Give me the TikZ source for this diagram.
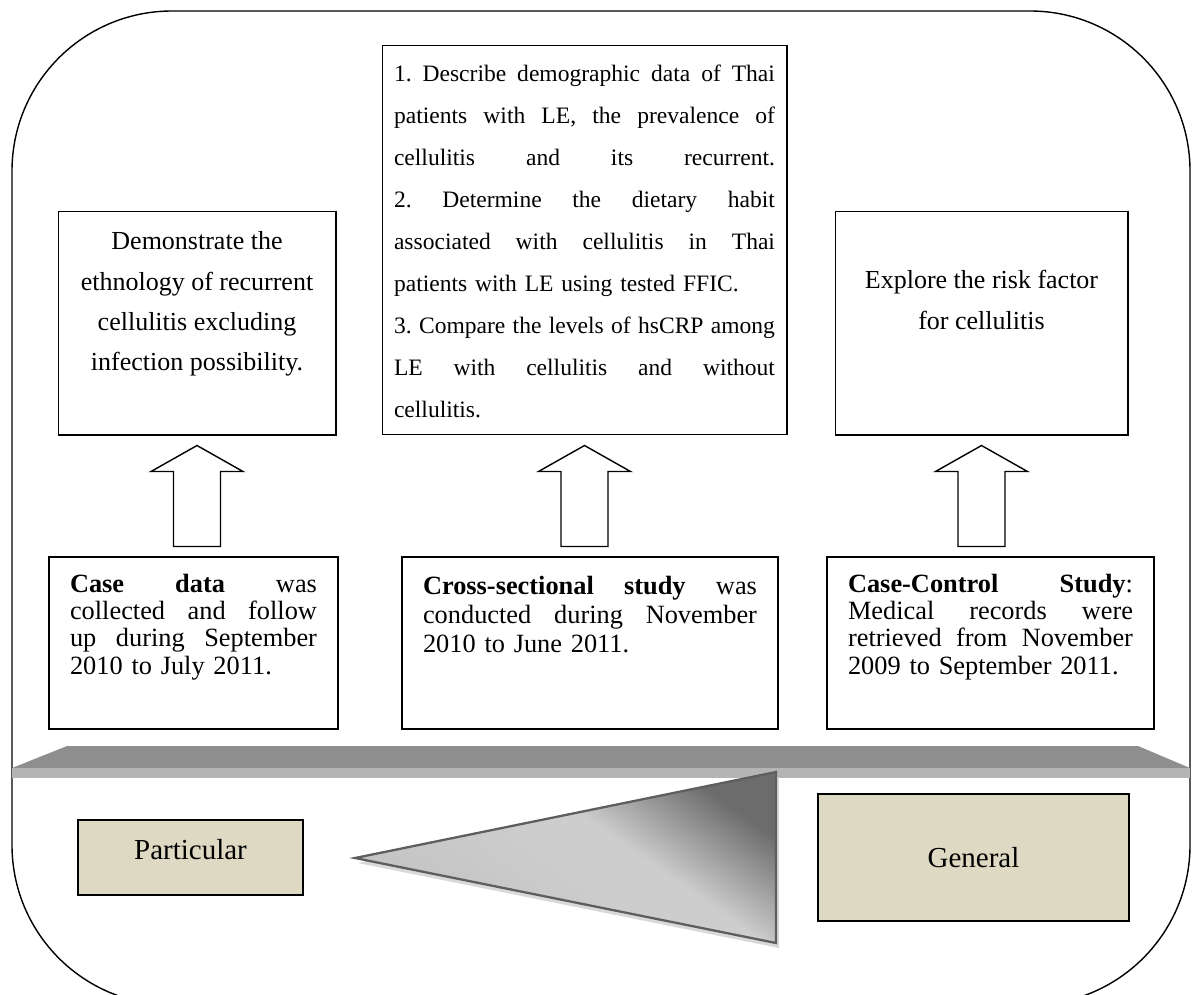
\documentclass[tikz,border=0pt]{standalone}
\usepackage{fontspec}
\setmainfont{Liberation Serif}
\usetikzlibrary{calc}

\definecolor{tanfill}{HTML}{DDD9C3}
\definecolor{shelftop}{HTML}{8E8E8E}
\definecolor{shelffront}{HTML}{B4B4B4}
\definecolor{wedgeedge}{HTML}{5E5E5E}
\definecolor{wedgedark}{HTML}{6C6C6C}
\definecolor{wedgelight}{HTML}{CDCDCD}
\definecolor{wedgelow}{HTML}{C2C2C2}

\pgfdeclareverticalshading{wedgeshade}{100bp}{color(0bp)=(wedgelow); color(25bp)=(wedgelow);
    color(50bp)=(wedgelight); color(58bp)=(wedgelight); color(75bp)=(wedgedark); color(100bp)=(wedgedark)}

% one justified line of fixed width
\newcommand{\jline}[2]{\makebox[#1][s]{\frenchspacing\spaceskip=0.25em plus 1fil minus 0.06em\relax #2}\\}

\begin{document}
\begin{tikzpicture}[x=0.02cm,y=-0.02cm,
    goalbox/.style={draw,line width=0.6pt,inner sep=0pt},
    studybox/.style={draw,line width=0.8pt,inner sep=0pt},
    goaltext/.style={font=\fontsize{14.8}{23}\selectfont,align=center,inner sep=0pt},
    listtext/.style={font=\fontsize{13.4}{23.9}\selectfont,align=left,inner sep=0pt,text width=7.62cm},
    studytext/.style={font=\fontsize{15}{15.5}\selectfont,align=left,inner sep=0pt},
    tanbox/.style={draw,fill=tanfill,line width=0.8pt,inner sep=0pt,font=\fontsize{16.5}{18}\selectfont},
    blockarrow/.style={draw,line width=0.8pt,fill=white,line join=miter}]
    \useasboundingbox (0,0) rectangle (1192,994);
    \clip (0,0) rectangle (1192,994);

    % outer frame
    \draw[line width=0.8pt,rounded corners=3.2cm] (12,11) rectangle (1190,1005);

    % aims
    \node[goalbox,minimum width=5.56cm,minimum height=4.48cm] (aimcase) at (197,323) {};
    \node[goaltext] (aimcasetext) at (197,304) {Demonstrate the\\ethnology of recurrent\\cellulitis excluding\\infection possibility.};

    \node[goalbox,minimum width=8.1cm,minimum height=7.8cm] (aimcross) at (584.5,240) {};
    \node[listtext] (aimcrosstext) at (584.5,241) {%
        \jline{7.62cm}{1. Describe demographic data of Thai}
        \jline{7.62cm}{patients with LE, the prevalence of}
        \jline{7.62cm}{cellulitis and its recurrent.}
        \jline{7.62cm}{2. Determine the dietary habit}
        \jline{7.62cm}{associated with cellulitis in Thai}
        patients with LE using tested FFIC.\\
        \jline{7.62cm}{3. Compare the levels of hsCRP among}
        \jline{7.62cm}{LE with cellulitis and without}
        cellulitis.};

    \node[goalbox,minimum width=5.86cm,minimum height=4.48cm] (aimcc) at (981.5,323) {};
    \node[goaltext] (aimcctext) at (981.5,300) {Explore the risk factor\\for cellulitis};

    % studies
    \node[studybox,minimum width=5.78cm,minimum height=3.44cm] (casebox) at (193.5,643) {};
    \node[studytext,text width=4.94cm] (casetext) at (193.5,627) {%
        \jline{4.94cm}{\textbf{Case} \textbf{data} was}
        \jline{4.94cm}{collected and follow}
        \jline{4.94cm}{up during September}
        2010 to July 2011.};

    \node[studybox,minimum width=7.52cm,minimum height=3.44cm] (crossbox) at (590,643) {};
    \node[studytext,text width=6.68cm,font=\fontsize{15}{16.5}\selectfont] (crosstext) at (590,615) {%
        \jline{6.68cm}{\textbf{Cross-sectional} \textbf{study} was}
        \jline{6.68cm}{conducted during November}
        2010 to June 2011.};

    \node[studybox,minimum width=6.54cm,minimum height=3.44cm] (ccbox) at (990.5,643) {};
    \node[studytext,text width=5.7cm] (cctext) at (990.5,627) {%
        \jline{5.7cm}{\textbf{Case-Control} \textbf{Study}:}
        \jline{5.7cm}{Medical records were}
        \jline{5.7cm}{retrieved from November}
        2009 to September 2011.};

    % block arrows up
    \foreach \a in {aimcase,aimcross,aimcc}
        \draw[blockarrow] ($(\a.south)+(0,10)$) -- ++(46,26) -- ++(-22.5,0) -- ++(0,75)
            -- ++(-47,0) -- ++(0,-75) -- ++(-22.5,0) -- cycle;

    % shelf
    \fill[shelftop] (12,768) -- (67,746) -- (1138,746) -- (1190,768) -- cycle;
    \fill[shelffront] (12,768) rectangle (1190,778);

    % wedge
    \coordinate (tipL) at (355,858);
    \coordinate (topR) at (776,772);
    \coordinate (botR) at (776,943);
    \fill[gray!30] ($(tipL)+(3,5)$) -- ($(topR)+(3,5)$) -- ($(botR)+(3,5)$) -- cycle;
    \shade[shading=wedgeshade,shading angle=-35]
        (tipL) -- (topR) -- (botR) -- cycle;
    \draw[wedgeedge,line width=1.3pt,line join=miter] (tipL) -- (topR) -- (botR) -- cycle;

    % particular / general
    \node[tanbox,minimum width=4.5cm,minimum height=1.5cm] (partbox) at (190.5,857.5) {};
    \node[font=\fontsize{16.5}{18}\selectfont,inner sep=0pt] (parttext) at ([yshift=4.5pt]partbox.center) {Particular};
    \node[tanbox,minimum width=6.22cm,minimum height=2.54cm] (genbox) at (973.5,857.5) {General};
\end{tikzpicture}
\end{document}
